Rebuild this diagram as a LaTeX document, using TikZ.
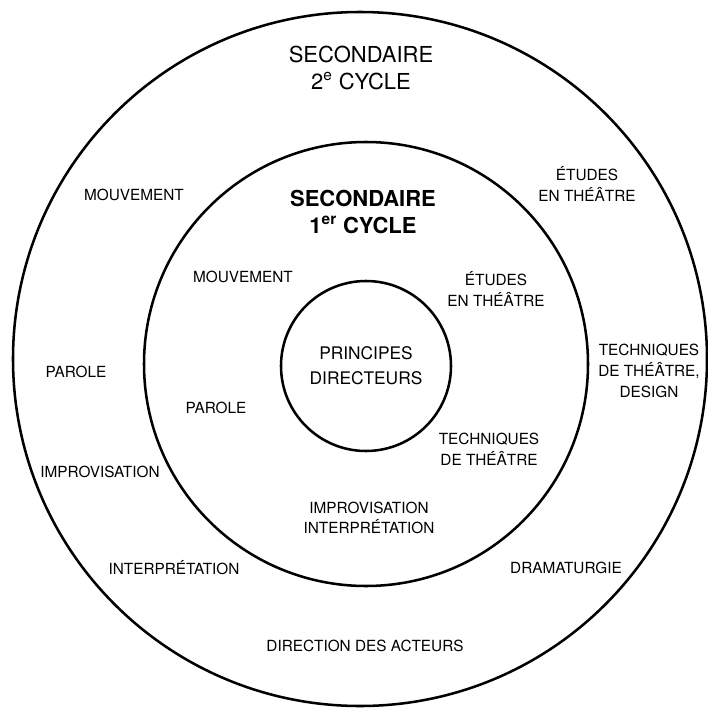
\documentclass[tikz,border=0pt]{standalone}
\usepackage{fontspec}
\setmainfont{TeX Gyre Heros}

\begin{document}
\begin{tikzpicture}[x=0.75pt, y=-0.75pt,
  ring/.style={circle, draw=black, line width=1.9pt, inner sep=0pt},
  topic/.style={font=\fontsize{11.5}{15.5}\selectfont, align=center, inner sep=0pt},
  cycletitle/.style={font=\fontsize{16.5}{20}\selectfont, align=center, inner sep=0pt}]
  \useasboundingbox (0,0) rectangle (707,710);

  % ===== Circles =====
  \node[ring, minimum size=520.5pt] (outer) at (360,359) {};
  \node[ring, minimum size=333pt] (middle) at (366,364) {};
  \node[ring, minimum size=127.5pt] (core) at (366,366) {};

  % ===== Centre =====
  \node[topic, font=\fontsize{13}{18.5}\selectfont] (principes) at (core) {PRINCIPES\\DIRECTEURS};

  % ===== Secondaire 1er cycle (middle ring) =====
  \node[cycletitle, font=\fontsize{16.5}{20}\bfseries\selectfont] (cycleone) at (363,212)
        {SECONDAIRE\\1\textsuperscript{er} CYCLE};
  \foreach \name/\x/\y/\txt in {mvtone/243/277/{MOUVEMENT},
                                 etudone/496/289/{ÉTUDES\\EN THÉÂTRE},
                                 parone/216/408/{PAROLE},
                                 techone/489/449/{TECHNIQUES\\DE THÉÂTRE},
                                 improone/369/518/{IMPROVISATION\\INTERPRÉTATION}} {
    \node[topic] (\name) at (\x,\y) {\txt};
  }

  % ===== Secondaire 2e cycle (outer ring) =====
  \node[cycletitle] (cycletwo) at (361,68) {SECONDAIRE\\2\textsuperscript{e} CYCLE};
  \foreach \name/\x/\y/\txt in {mvttwo/134/195/{MOUVEMENT},
                                 etudtwo/587/184/{ÉTUDES\\EN THÉÂTRE},
                                 partwo/76/372/{PAROLE},
                                 techtwo/649/371/{TECHNIQUES\\DE THÉÂTRE,\\DESIGN},
                                 improtwo/100/472/{IMPROVISATION},
                                 interptwo/174/568/{INTERPRÉTATION},
                                 dramatwo/566/568/{DRAMATURGIE},
                                 directwo/365/646/{DIRECTION DES ACTEURS}} {
    \node[topic] (\name) at (\x,\y) {\txt};
  }
\end{tikzpicture}
\end{document}
